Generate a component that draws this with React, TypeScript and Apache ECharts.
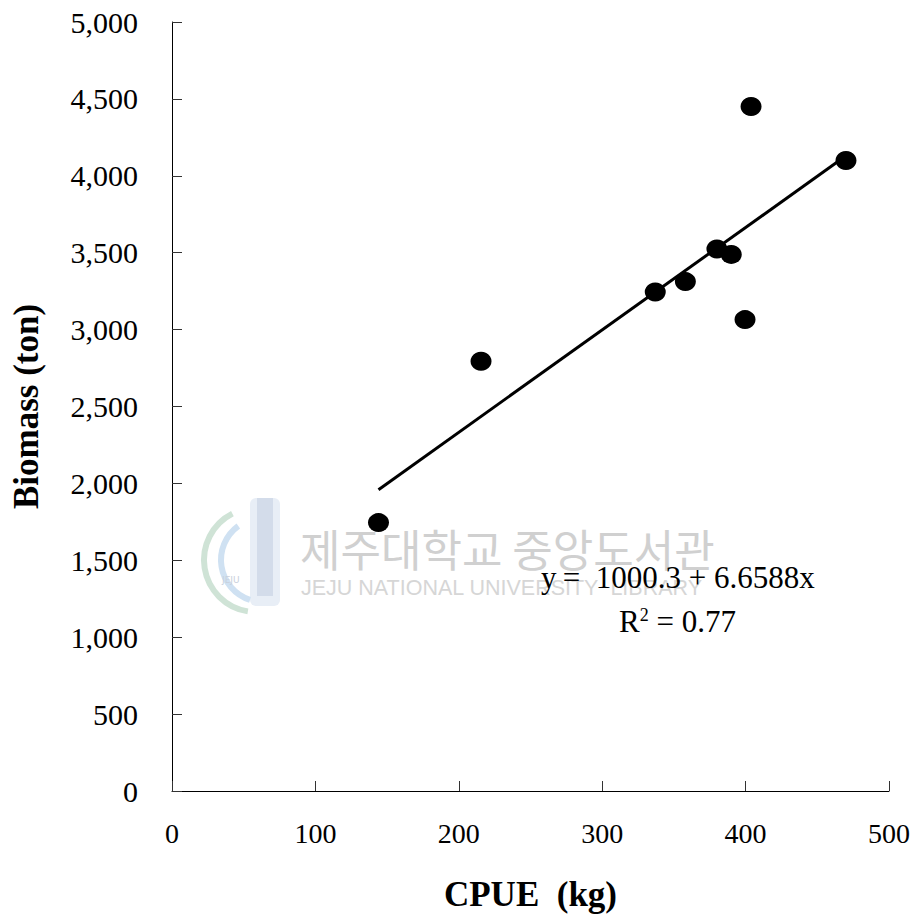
import React, { useEffect, useRef } from "react";
import * as echarts from "echarts";

const cpue = [144, 215.5, 337, 358, 380, 390, 399.6, 403.8, 470];
const biomass = [1745, 2794, 3245, 3312, 3524, 3489, 3065, 4450, 4099];
const intercept = 1000.3;
const slope = 6.6588;
const fitRange = [144, 470];
const xTicks = [0, 100, 200, 300, 400, 500];
const yTicks = [0, 500, 1000, 1500, 2000, 2500, 3000, 3500, 4000, 4500, 5000];

const SERIF = "'Liberation Serif', 'Times New Roman', serif";

export default function App() {
  const ref = useRef<HTMLDivElement>(null);
  useEffect(() => {
    if (!ref.current) return;
    const chart = echarts.init(ref.current, null, { renderer: "svg" });
    const fit = fitRange.map((x) => [x, intercept + slope * x]);
    chart.setOption({
      animation: false,
      backgroundColor: "#fff",
      grid: { left: 172, right: 29, top: 22, bottom: 125 },
      xAxis: {
        type: "value",
        min: xTicks[0],
        max: xTicks[xTicks.length - 1],
        interval: 100,
        name: "CPUE\u00a0\u00a0(kg)",
        nameLocation: "middle",
        nameGap: 86,
        nameTextStyle: { fontFamily: SERIF, fontWeight: "bold", fontSize: 35, color: "#000" },
        axisLine: { show: true, lineStyle: { color: "#000", width: 1 } },
        axisTick: { show: true, inside: true, length: 10, lineStyle: { color: "#333" } },
        axisLabel: { fontFamily: SERIF, fontSize: 28, color: "#000", margin: 28 },
        splitLine: { show: false },
      },
      yAxis: {
        type: "value",
        min: yTicks[0],
        max: yTicks[yTicks.length - 1],
        interval: 500,
        name: "Biomass (ton)",
        nameLocation: "middle",
        nameGap: 128,
        nameRotate: 90,
        nameTextStyle: { fontFamily: SERIF, fontWeight: "bold", fontSize: 35, color: "#000" },
        axisLine: { show: true, lineStyle: { color: "#000", width: 1 } },
        axisTick: { show: true, inside: true, length: 10, lineStyle: { color: "#333" } },
        axisLabel: {
          fontFamily: SERIF,
          fontSize: 30,
          color: "#000",
          margin: 34,
          formatter: (v: number) => v.toLocaleString("en-US"),
        },
        splitLine: { show: false },
      },
      graphic: [
        {
          type: "group",
          silent: true,
          children: [
            { type: "rect", shape: { x: 250, y: 498, width: 30, height: 108, r: 6 }, style: { fill: "#e8eef6" } },
            { type: "rect", shape: { x: 257, y: 498, width: 16, height: 98 }, style: { fill: "#d3dcea" } },
            { type: "arc", shape: { cx: 256, cy: 560, r: 52, startAngle: Math.PI * 0.55, endAngle: Math.PI * 1.35 }, style: { stroke: "#cfe3d6", lineWidth: 6, fill: "none" } },
            { type: "arc", shape: { cx: 263, cy: 560, r: 42, startAngle: Math.PI * 0.6, endAngle: Math.PI * 1.3 }, style: { stroke: "#cfe1f2", lineWidth: 6, fill: "none" } },
            { type: "text", x: 222, y: 575, style: { text: "JEJU", fontSize: 9, fill: "#c8d0dc", fontFamily: "DejaVu Sans" } },
            {
              type: "text",
              x: 300,
              y: 548,
              style: { text: "제주대학교 중앙도서관", fontSize: 44, fill: "#d0d0d0", fontFamily: "'Noto Sans CJK KR'", verticalAlign: "middle" },
            },
            {
              type: "text",
              x: 301,
              y: 588,
              style: { text: "JEJU NATIONAL UNIVERSITY\u00a0\u00a0LIBRARY", fontSize: 21.5, fill: "#d6d6d6", fontFamily: "'Liberation Sans', sans-serif", verticalAlign: "middle" },
            },
          ],
        },
        {
          type: "text",
          x: 541,
          y: 577,
          z: 10,
          style: { text: "y\u2009=\u00a0\u00a01000.3 + 6.6588x", fontSize: 31, fill: "#000", fontFamily: SERIF, verticalAlign: "middle" },
        },
        {
          type: "text",
          x: 619,
          y: 621,
          z: 10,
          style: {
            text: "R{sup|2} = 0.77",
            fontSize: 31,
            fill: "#000",
            fontFamily: SERIF,
            verticalAlign: "middle",
            rich: { sup: { fontSize: 18, verticalAlign: "top", padding: [0, 0, 12, 0], fontFamily: SERIF, fill: "#000" } },
          },
        },
      ],
      series: [
        {
          type: "line",
          data: fit,
          showSymbol: false,
          symbol: "none",
          lineStyle: { color: "#000", width: 3 },
          z: 2,
        },
        {
          type: "scatter",
          data: cpue.map((x, i) => [x, biomass[i]]),
          symbol: "circle",
          symbolSize: [21, 19],
          itemStyle: { color: "#000", opacity: 1 },
          z: 3,
        },
      ],
    });
    return () => chart.dispose();
  }, []);
  return <div ref={ref} style={{ position: "fixed", left: 0, top: 0, width: 918, height: 917 }} />;
}
